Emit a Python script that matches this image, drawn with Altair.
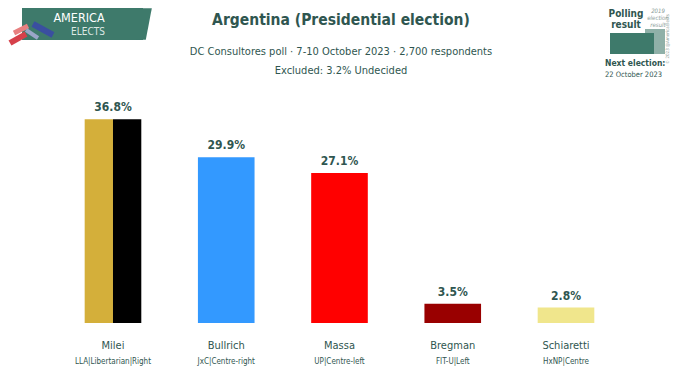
import altair as alt
import pandas as pd

candidates = ["Milei", "Bullrich", "Massa", "Bregman", "Schiaretti"]
parties = ["LLA|Libertarian|Right", "JxC|Centre-right", "UP|Centre-left", "FIT-U|Left", "HxNP|Centre"]
values = [36.8, 29.9, 27.1, 3.5, 2.8]
bar_colors = [["#D4AF3A", "#000000"], ["#3399FF"], ["#FF0000"], ["#990000"], ["#F0E68C"]]

title = "Argentina (Presidential election)"
subtitle1 = "DC Consultores poll · 7-10 October 2023 · 2,700 respondents"
subtitle2 = "Excluded: 3.2% Undecided"

TXT = "#2F5650"
FONT = "Liberation Sans Narrow, DejaVu Sans Condensed, Roboto"
HALF = 0.25

rows = []
for i, (c, v, cols) in enumerate(zip(candidates, values, bar_colors)):
    n = len(cols)
    for k, col in enumerate(cols):
        x0 = i - HALF + k * 2 * HALF / n
        rows.append({"candidate": c, "value": v, "x": x0, "x2": x0 + 2 * HALF / n, "color": col, "zero": 0})
bars_df = pd.DataFrame(rows)
lab_df = pd.DataFrame({"i": list(range(len(candidates))), "candidate": candidates,
                       "party": parties, "value": values,
                       "label": [f"{v:.1f}%" for v in values]})

xs = alt.Scale(domain=[-0.927, 4.936], nice=False, zero=False)
ys = alt.Scale(domain=[-9.2, 56.86], nice=False, zero=False)

bars = alt.Chart(bars_df).mark_rect().encode(
    x=alt.X("x:Q", scale=xs, axis=None), x2="x2:Q",
    y=alt.Y("value:Q", scale=ys, axis=None), y2="zero:Q",
    color=alt.Color("color:N", scale=None),
)
vals = alt.Chart(lab_df).mark_text(font=FONT, fontSize=12, fontWeight="bold", color=TXT, dy=-5, baseline="bottom").encode(
    x=alt.X("i:Q", scale=xs, axis=None), y=alt.Y("value:Q", scale=ys, axis=None), text="label:N")
names = alt.Chart(lab_df).mark_text(font=FONT, fontSize=11, color=TXT, baseline="middle").encode(
    x=alt.X("i:Q", scale=xs, axis=None), y=alt.value(338), text="candidate:N")
party = alt.Chart(lab_df).mark_text(font=FONT, fontSize=8, color=TXT, baseline="middle").encode(
    x=alt.X("i:Q", scale=xs, axis=None), y=alt.value(354), text="party:N")

one = alt.Data(values=[{"a": 1}])

def txt(s, x, y, size, weight="normal", color=TXT, align="center", style="normal", angle=0):
    return alt.Chart(one).mark_text(text=s, font=FONT, fontSize=size, fontWeight=weight, color=color,
                                    align=align, baseline="middle", fontStyle=style, angle=angle).encode(
        x=alt.value(x), y=alt.value(y))

def rect(x, x2, y, y2, color):
    return alt.Chart(one).mark_rect(color=color).encode(
        x=alt.value(x), x2=alt.value(x2), y=alt.value(y), y2=alt.value(y2))

def rule(x, y, x2, y2, color, w):
    return alt.Chart(one).mark_rule(color=color, strokeWidth=w).encode(
        x=alt.value(x), y=alt.value(y), x2=alt.value(x2), y2=alt.value(y2))

# logo
logo_bg = rect(14, 135, 0, 32, "#3E7A6B")
logo_tri = alt.Chart(one).mark_point(shape="M 0 -1 L 1 -1 L 0.62 1 L 0 1 Z", filled=True, size=1000, color="#3E7A6B", opacity=1).encode(
    x=alt.value(128), y=alt.value(16))
logo = [
    logo_bg, logo_tri,
    rule(2, 35, 18, 26, "#D6404A", 6),
    rule(6, 25, 20, 18, "#E88080", 5),
    rule(25, 16, 45, 27, "#3A4FA0", 6),
    rule(18, 22, 30, 30, "#9AA6C8", 4),
    txt("AMERICA", 71, 10, 12.5, color="#FFFFFF"),
    txt("ELECTS", 80, 24, 10, color="#DDE8E4"),
]

legend = [
    rect(637, 657, 21, 46, "#8FB0A8"),
    rect(602, 646, 25, 46, "#3E7A6B"),
    txt("Polling", 618, 6, 10, weight="bold"),
    txt("result", 618, 17, 10, weight="bold"),
    txt("2019", 650, 3, 6, color="#8A9C98", style="italic"),
    txt("election", 650, 10, 6, color="#8A9C98", style="italic"),
    txt("result", 650, 17, 6, color="#8A9C98", style="italic"),
    txt("Next election:", 597, 55, 8.5, weight="bold", align="left"),
    txt("22 October 2023", 597, 67, 7.5, align="left"),
    txt("© 2023 @AmericaElects", 660, 31, 4.5, color="#8A9C98", angle=270),
]

titles = [
    txt(title, 333, 12, 15.5, weight="bold"),
    txt(subtitle1, 333, 44, 11),
    txt(subtitle2, 333, 63, 11),
]

chart = alt.layer(bars, vals, names, party, *logo, *legend, *titles).properties(
    width=664, height=366, autosize=alt.AutoSizeParams(type="none"), padding=0
).configure_view(stroke=None)

chart.save("out.html", embed_options={"renderer": "svg", "actions": False})
